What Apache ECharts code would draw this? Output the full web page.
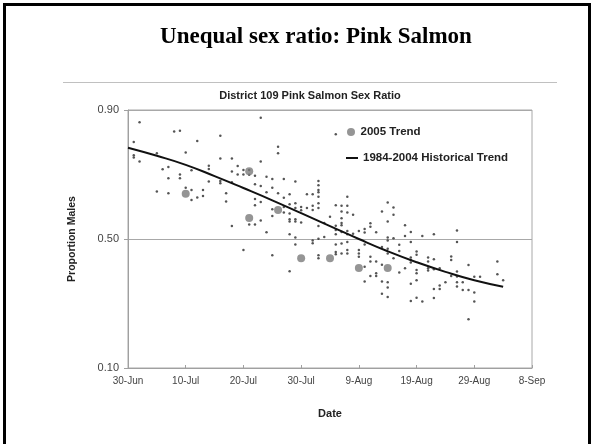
<!DOCTYPE html>
<html>
<head>
<meta charset="utf-8">
<script src="https://cdn.jsdelivr.net/npm/echarts@6/dist/echarts.min.js"></script>
<style>
html,body{margin:0;padding:0;background:#fff;}
#main{width:594px;height:444px;}
</style>
</head>
<body>
<div id="main"></div>
<script>
// Day offsets from 30-Jun; x tick labels every 10 days
var xTickLabels = ["30-Jun","10-Jul","20-Jul","30-Jul","9-Aug","19-Aug","29-Aug","8-Sep"];
var yTickValues = [0.1, 0.5, 0.9];

// 2005 trend points [day, proportion males]
var trend2005 = [[10,0.64],[21,0.71],[21,0.565],[26,0.59],[30,0.44],[35,0.44],[40,0.41],[45,0.41]];

// 1984-2004 historical trend line [day, proportion]
var historicalTrend = [[0,0.783],[5,0.758],[10,0.730],[15,0.695],[20,0.658],[25,0.620],[30,0.580],
  [35,0.540],[40,0.500],[45,0.462],[50,0.428],[55,0.398],[60,0.372],[65,0.352]];

// individual historical observations [day, proportion]
var observations = [
  [1,0.801],[1,0.76],[1,0.753],[2,0.862],[2,0.74],
  [5,0.766],[5,0.647],[6,0.716],[7,0.723],[7,0.688],[7,0.642],
  [8,0.833],[9,0.836],[9,0.70],[9,0.688],[10,0.768],[10,0.659],
  [11,0.713],[11,0.652],[11,0.621],[12,0.804],[12,0.629],
  [13,0.652],[13,0.633],[14,0.727],[14,0.717],[14,0.678],
  [16,0.82],[16,0.75],[16,0.68],[16,0.673],[17,0.642],[17,0.616],
  [18,0.75],[18,0.709],[18,0.676],[18,0.54],[19,0.726],[19,0.70],
  [20,0.714],[20,0.70],[20,0.466],[21,0.714],[21,0.699],[21,0.545],
  [22,0.696],[22,0.67],[22,0.624],[22,0.605],[22,0.545],
  [23,0.876],[23,0.74],[23,0.664],[24,0.693],[24,0.645],
  [25,0.686],[25,0.659],[26,0.786],[26,0.766],[26,0.642],
  [27,0.686],[27,0.628],[28,0.639],[29,0.678],[31,0.639],[32,0.639],
  [33,0.68],[33,0.667],[33,0.652],[33,0.645],[33,0.631],[36,0.825],[38,0.631],
  [23,0.615],[23,0.557],[24,0.521],[25,0.592],[25,0.571],[25,0.45],
  [27,0.599],[27,0.582],[28,0.608],[28,0.579],[28,0.561],[28,0.554],[28,0.515],[28,0.40],
  [29,0.611],[29,0.596],[29,0.561],[29,0.554],[29,0.505],[29,0.483],
  [30,0.599],[30,0.589],[30,0.551],[31,0.596],
  [32,0.603],[32,0.59],[32,0.495],[32,0.487],
  [33,0.611],[33,0.596],[33,0.54],[33,0.501],[33,0.45],[33,0.44],
  [34,0.55],[34,0.506],[35,0.569],
  [36,0.605],[36,0.541],[36,0.528],[36,0.515],[36,0.483],[36,0.46],[36,0.453],
  [37,0.603],[37,0.585],[37,0.564],[37,0.55],[37,0.543],[37,0.522],[37,0.486],[37,0.455],
  [38,0.603],[38,0.582],[38,0.525],[38,0.515],[38,0.491],[38,0.466],[38,0.455],
  [39,0.575],[39,0.516],[40,0.525],[40,0.466],[40,0.455],[40,0.445],
  [41,0.531],[41,0.52],[41,0.483],[41,0.414],[41,0.368],
  [42,0.549],[42,0.538],[42,0.445],[42,0.43],[42,0.385],
  [43,0.521],[43,0.43],[43,0.394],[43,0.385],
  [44,0.585],[44,0.475],[44,0.42],[44,0.368],[44,0.33],
  [45,0.613],[45,0.554],[45,0.505],[45,0.495],[45,0.47],[45,0.455],[45,0.366],[45,0.35],[45,0.32],
  [46,0.598],[46,0.575],[46,0.502],[46,0.44],
  [47,0.482],[47,0.463],[47,0.396],[48,0.543],[48,0.509],[48,0.409],
  [49,0.522],[49,0.491],[49,0.443],[49,0.435],[49,0.427],[49,0.361],[49,0.308],
  [50,0.461],[50,0.451],[50,0.404],[50,0.394],[50,0.372],[50,0.318],
  [51,0.509],[51,0.306],[52,0.443],[52,0.43],[52,0.409],[52,0.402],
  [53,0.515],[53,0.437],[53,0.406],[53,0.345],[53,0.317],
  [54,0.409],[54,0.356],[54,0.345],[55,0.366],
  [56,0.446],[56,0.435],[56,0.385],
  [57,0.526],[57,0.491],[57,0.399],[57,0.384],[57,0.366],[57,0.353],
  [58,0.366],[58,0.342],[59,0.419],[59,0.342],[59,0.251],
  [60,0.383],[60,0.334],[60,0.306],[61,0.383],[64,0.43],[64,0.391],[65,0.372]
];

var chart = echarts.init(document.getElementById('main'), null, {renderer:'canvas'});
var sans = 'Liberation Sans, Arial, sans-serif';
var legendText = {fontFamily: sans, fontWeight: 'bold', fontSize: 11.5, color: '#222'};

chart.setOption({
  animation: false,
  backgroundColor: '#fff',
  title: [
    {text: 'Unequal sex ratio: Pink Salmon', left: 316, top: 26, textAlign: 'center', padding: 0,
     textStyle: {fontFamily: 'Liberation Serif, Times New Roman, serif', fontWeight: 'bold', fontSize: 23, color: '#000'}},
    {text: 'District 109 Pink Salmon Sex Ratio', left: 310, top: 90, textAlign: 'center', padding: 0,
     textStyle: {fontFamily: sans, fontWeight: 'bold', fontSize: 11, color: '#222'}}
  ],
  graphic: [
    {type: 'rect', shape: {x: 4.5, y: 4.5, width: 585, height: 445}, style: {fill: 'none', stroke: '#000', lineWidth: 3}},
    {type: 'line', shape: {x1: 63, y1: 82.5, x2: 557, y2: 82.5}, style: {stroke: '#c0c0c0', lineWidth: 1}}
  ],
  legend: [
    {orient: 'vertical', left: 347, top: 126, padding: 0, itemWidth: 9, itemHeight: 8,
     data: ['2005 Trend'], textStyle: legendText},
    {orient: 'vertical', left: 346, top: 152, padding: 0, itemWidth: 12, itemHeight: 2,
     data: [{name: '1984-2004 Historical Trend', icon: 'rect'}], textStyle: legendText}
  ],
  grid: {left: 128, right: 62, top: 110, bottom: 76, show: true, borderColor: '#a8a8a8', borderWidth: 1},
  xAxis: {
    type: 'value', min: 0, max: 70, interval: 10,
    name: 'Date', nameLocation: 'middle', nameGap: 40,
    nameTextStyle: {fontFamily: sans, fontWeight: 'bold', fontSize: 11, color: '#222'},
    axisLine: {lineStyle: {color: '#a0a0a0'}},
    axisTick: {inside: true, length: 3, lineStyle: {color: '#a0a0a0'}},
    splitLine: {show: false},
    axisLabel: {fontFamily: sans, fontSize: 10, color: '#444', margin: 8,
      formatter: function (v) { return xTickLabels[Math.round(v / 10)]; }}
  },
  yAxis: {
    type: 'value', min: yTickValues[0], max: yTickValues[2], interval: 0.4,
    name: 'Proportion Males', nameLocation: 'middle', nameGap: 50,
    nameTextStyle: {fontFamily: sans, fontWeight: 'bold', fontSize: 10.5, color: '#222'},
    axisLine: {show: true, lineStyle: {color: '#a0a0a0'}},
    axisTick: {show: true, length: 4, lineStyle: {color: '#a0a0a0'}},
    splitLine: {show: true, lineStyle: {color: '#a8a8a8'}},
    axisLabel: {fontFamily: sans, fontSize: 11, color: '#444', margin: 9,
      formatter: function (v) { return v.toFixed(2); }}
  },
  series: [
    {name: 'Observations', type: 'scatter', data: observations, symbolSize: 2.5,
     itemStyle: {color: '#2a2a2a'}, silent: true, z: 2},
    {name: '1984-2004 Historical Trend', type: 'line', data: historicalTrend, smooth: true,
     showSymbol: false, symbol: 'none', lineStyle: {color: '#111', width: 2}, itemStyle: {color: '#111'}, z: 3},
    {name: '2005 Trend', type: 'scatter', data: trend2005, symbolSize: 8,
     itemStyle: {color: '#7a7a7a'}, z: 4}
  ]
});
</script>
</body>
</html>
